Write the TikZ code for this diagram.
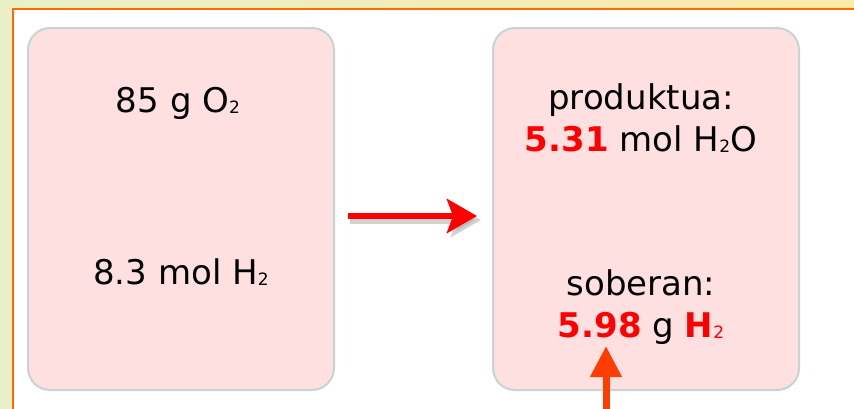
\documentclass[tikz,border=0pt]{standalone}
\usepackage{fontspec}
\setmainfont{DejaVu Sans}
\usetikzlibrary{arrows.meta}

\newcommand{\chemsub}[1]{\raisebox{-1.5pt}{\fontsize{17}{17}\selectfont #1}}

\begin{document}
\begin{tikzpicture}[x=1pt, y=-1pt,
  box/.style={draw=borderRB, line width=2pt, fill=pinkRB, rounded corners=22pt,
    minimum width=306pt, minimum height=362pt, inner sep=0pt},
  txt/.style={anchor=base, inner sep=0pt, font=\fontsize{34}{40}\selectfont}]

\definecolor{greenBG}{HTML}{E9F0C8}
\definecolor{yellowBG}{HTML}{FCE9A8}
\definecolor{orangeRB}{HTML}{FF6A00}
\definecolor{pinkRB}{HTML}{FFE0E0}
\definecolor{borderRB}{HTML}{C6D4D4}
\definecolor{redRB}{HTML}{FF0000}
\definecolor{arrowRB}{HTML}{FF3D00}

\useasboundingbox (0,0) rectangle (854,408);
\shade[left color=greenBG, right color=yellowBG] (0,0) rectangle (854,408);
\draw[orangeRB, line width=2pt, fill=white] (13,9) rectangle (870,420);

\node[box] (lbox) at (181,209) {};
\node[box] (rbox) at (646,209) {};

\node[txt] (oxy) at (178,112) {85 g O\chemsub{2}};
\node[txt] (hyd) at (181,284) {8.3 mol H\chemsub{2}};
\node[txt] (prodlbl) at (641,109) {produktua:};
\node[txt] (prodval) at (641,151) {\textcolor{redRB}{\textbf{5.31}} mol H\chemsub{2}O};
\node[txt] (sobelbl) at (641,295) {soberan:};
\node[txt] (sobeval) at (641,337) {\textcolor{redRB}{\textbf{5.98}} g \textcolor{redRB}{\textbf{H}\chemsub{2}}};

% shadow, then arrow
\draw[black!35, opacity=.5, line width=7pt, -{Stealth[length=30pt, width=34pt, inset=6pt]},
  shorten <=13pt, shorten >=13pt] ([xshift=2pt, yshift=-11pt]lbox.east) -- ([xshift=2pt, yshift=-11pt]rbox.west);
\draw[redRB, line width=6pt, -{Stealth[length=30pt, width=34pt, inset=6pt]},
  shorten <=13pt, shorten >=15pt] ([yshift=-7pt]lbox.east) -- ([yshift=-7pt]rbox.west);

\coordinate (tailpt) at (606,412);
\coordinate (tippt) at (606,346);
\draw[arrowRB, line width=7pt, -{Triangle[length=31pt, width=30pt]}] (tailpt) -- (tippt);
\end{tikzpicture}
\end{document}
